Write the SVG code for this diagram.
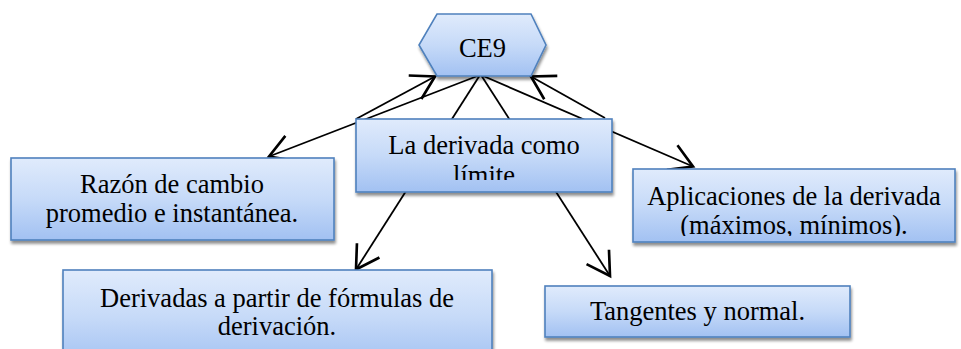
<svg xmlns="http://www.w3.org/2000/svg" width="961" height="349" viewBox="0 0 961 349">
<style>
.box{fill:url(#g);stroke:#4f81bd;stroke-width:1.6;filter:url(#sh)}
.t{font-family:"Liberation Serif","Times New Roman",serif;font-size:26.5px;fill:#000;text-anchor:middle}
.c{fill:none;stroke:#000;stroke-width:1.8}
</style>
<defs>
<linearGradient id="g" x1="0" y1="0" x2="0" y2="1">
<stop offset="0" stop-color="#e0ebfc"/>
<stop offset="0.5" stop-color="#c6daf8"/>
<stop offset="1" stop-color="#a2c1f2"/>
</linearGradient>
<filter id="sh" x="-10%" y="-10%" width="125%" height="140%">
<feGaussianBlur in="SourceAlpha" stdDeviation="1.8"/>
<feOffset dx="1" dy="3" result="b"/>
<feComponentTransfer><feFuncA type="linear" slope="0.45"/></feComponentTransfer>
<feMerge><feMergeNode/><feMergeNode in="SourceGraphic"/></feMerge>
</filter>
<marker id="arr" markerUnits="userSpaceOnUse" markerWidth="40" markerHeight="40" viewBox="-25 -15 30 30" refX="0" refY="0" orient="auto" overflow="visible">
<path d="M-17,-10 L0,0 L-17,10" fill="none" stroke="#000" stroke-width="2"/>
</marker>
<clipPath id="clipLD"><rect x="356" y="119" width="256" height="61"/></clipPath>
<clipPath id="clipAp"><rect x="633" y="169" width="322" height="67"/></clipPath>
</defs>

<g id="connectors">
<line class="c" x1="480" y1="75" x2="269" y2="156.5" marker-end="url(#arr)"/>
<line class="c" x1="480" y1="75" x2="356" y2="269.5" marker-end="url(#arr)"/>
<line class="c" x1="481" y1="75" x2="610" y2="276" marker-end="url(#arr)"/>
<line class="c" x1="481" y1="75" x2="693" y2="166.5" marker-end="url(#arr)"/>
<line class="c" x1="356" y1="119" x2="435" y2="76.5" marker-end="url(#arr)"/>
<line class="c" x1="605" y1="118" x2="531" y2="76.5" marker-end="url(#arr)"/>
</g>

<g id="ce9">
<polygon class="box" points="437,14 531,14 546,45 531,76 437,76 419,45"/>
<text class="t" x="482.5" y="57">CE9</text>
</g>

<g id="la-derivada">
<rect class="box" x="356" y="119" width="256" height="73"/>
<g clip-path="url(#clipLD)">
<text class="t" x="484" y="154">La derivada como</text>
<text class="t" x="484" y="184">límite</text>
</g>
</g>

<g id="razon">
<rect class="box" x="11" y="158" width="323" height="82"/>
<text class="t" x="172" y="193">Razón de cambio</text>
<text class="t" x="172" y="222">promedio e instantánea.</text>
</g>

<g id="aplicaciones">
<rect class="box" x="633" y="169" width="322" height="73"/>
<g clip-path="url(#clipAp)">
<text class="t" x="794" y="205">Aplicaciones de la derivada</text>
<text class="t" x="794" y="234">(máximos, mínimos).</text>
</g>
</g>

<g id="derivadas">
<rect class="box" x="63" y="270" width="429" height="95"/>
<text class="t" x="277" y="307">Derivadas a partir de fórmulas de</text>
<text class="t" x="277" y="335">derivación.</text>
</g>

<g id="tangentes">
<rect class="box" x="545" y="286" width="305" height="51"/>
<text class="t" x="697.5" y="320">Tangentes y normal.</text>
</g>
</svg>
